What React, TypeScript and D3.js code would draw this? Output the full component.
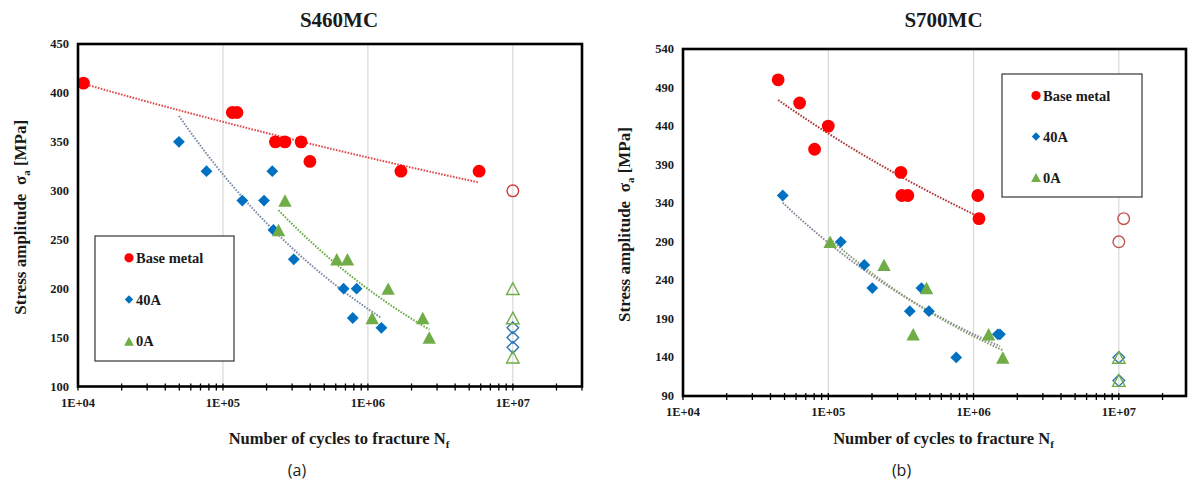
import React from 'react';
import * as d3 from 'd3';

const W = 1188;
const H = 488;
const serif = '"Liberation Serif", "Times New Roman", serif';

// ---- S460MC (a) ----
const s460BaseN = [1.09e4, 1.16e5, 1.25e5, 2.3e5, 2.68e5, 3.46e5, 3.98e5, 1.69e6, 5.85e6];
const s460BaseS = [410, 380, 380, 350, 350, 350, 330, 320, 320];
const s460BaseRunN = [1e7];
const s460BaseRunS = [300];
const s460A40N = [4.97e4, 7.7e4, 1.36e5, 1.92e5, 2.19e5, 2.23e5, 3.08e5, 6.8e5, 8.36e5, 7.86e5, 1.24e6];
const s460A40S = [350, 320, 290, 290, 320, 260, 230, 200, 200, 170, 160];
const s460A40RunN = [1e7, 1e7, 1e7];
const s460A40RunS = [160, 150, 140];
const s460A0N = [2.68e5, 2.42e5, 6.1e5, 7.23e5, 1.38e6, 1.07e6, 2.39e6, 2.65e6];
const s460A0S = [290, 260, 230, 230, 200, 170, 170, 150];
const s460A0RunN = [1e7, 1e7, 1e7];
const s460A0RunS = [200, 170, 130];
const s460YTicks = [100, 150, 200, 250, 300, 350, 400, 450];

// ---- S700MC (b) ----
const s700BaseN = [4.52e4, 6.35e4, 8.05e4, 1.0e5, 3.16e5, 3.21e5, 3.53e5, 1.07e6, 1.09e6];
const s700BaseS = [500, 470, 410, 440, 380, 350, 350, 350, 320];
const s700BaseRunN = [1.08e7, 1e7];
const s700BaseRunS = [320, 290];
const s700A40N = [4.86e4, 1.22e5, 1.77e5, 2.01e5, 4.38e5, 3.64e5, 4.93e5, 1.47e6, 1.52e6, 7.6e5];
const s700A40S = [350, 290, 260, 230, 230, 200, 200, 170, 170, 140];
const s700A40RunN = [1e7, 1e7];
const s700A40RunS = [140, 110];
const s700A0N = [1.03e5, 2.42e5, 4.75e5, 3.84e5, 1.27e6, 1.59e6];
const s700A0S = [290, 260, 230, 170, 170, 140];
const s700A0RunN = [1e7, 1e7];
const s700A0RunS = [140, 110];
const s700YTicks = [90, 140, 190, 240, 290, 340, 390, 440, 490, 540];

const xTickValues = [1e4, 1e5, 1e6, 1e7];
const xTickLabels = ['1E+04', '1E+05', '1E+06', '1E+07'];
const legendLabels = ['Base metal', '40A', '0A'];

const RED = '#ff0000';
const BLUE = '#0070c0';
const GREEN = '#70ad47';
const INK = '#1a1a1a';

// Excel-style power trendline: least squares on log N / log S
function powerFit(n: number[], s: number[]): [number, number][] {
  const lx = n.map(Math.log10);
  const ly = s.map(Math.log10);
  const mx = d3.mean(lx) as number;
  const my = d3.mean(ly) as number;
  const b = d3.sum(lx, (x, i) => (x - mx) * (ly[i] - my)) / d3.sum(lx, x => (x - mx) ** 2);
  const a = my - b * mx;
  const [lo, hi] = d3.extent(lx) as [number, number];
  return d3.range(41).map(i => {
    const l = lo + ((hi - lo) * i) / 40;
    return [10 ** l, 10 ** (a + b * l)];
  });
}

const diamond = (r: number) => `M0,${-r}L${r},0L0,${r}L${-r},0Z`;
const triangle = (r: number) => `M0,${-r}L${r * 1.08},${r}L${-r * 1.08},${r}Z`;

type Kind = 'circle' | 'diamond' | 'triangle';

function Marker({ kind, x, y, color, open, size = 6.3 }: { kind: Kind; x: number; y: number; color: string; open?: boolean; size?: number }) {
  const fill = open ? 'none' : color;
  const stroke = open ? color : 'none';
  const sw = open ? 1.4 : 0;
  if (kind === 'circle') return <circle cx={x} cy={y} r={size} fill={fill} stroke={stroke} strokeWidth={sw} />;
  const d = kind === 'diamond' ? diamond(size) : triangle(size);
  return <path transform={`translate(${x},${y})`} d={d} fill={fill} stroke={stroke} strokeWidth={sw} />;
}

const markerSize: Record<Kind, number> = { circle: 6.4, diamond: 5.9, triangle: 6.2 };
const legendSize: Record<Kind, number> = { circle: 4.6, diamond: 4.2, triangle: 4.5 };

type SeriesDef = {
  kind: Kind;
  color: string;
  runColor: string;
  trendColor: string;
  n: number[];
  s: number[];
  runN: number[];
  runS: number[];
};

type PanelProps = {
  title: string;
  caption: string;
  left: number;
  right: number;
  top: number;
  bottom: number;
  xMax: number;
  yTicks: number[];
  series: SeriesDef[];
  legend: { x: number; y: number; w: number; h: number };
  yLabelX: number;
};

function Panel({ title, caption, left, right, top, bottom, xMax, yTicks, series, legend, yLabelX }: PanelProps) {
  const x = d3.scaleLog().domain([1e4, xMax]).range([left, right]);
  const y = d3.scaleLinear().domain([yTicks[0], yTicks[yTicks.length - 1]]).range([bottom, top]);
  const line = d3.line<[number, number]>().x(d => x(d[0])).y(d => y(d[1]));
  const minor: number[] = [];
  for (const dec of xTickValues) for (let k = 1; k <= 9; k++) if (k * dec <= xMax) minor.push(k * dec);
  const cx = (left + right) / 2;
  const rowGap = legend.h / 3;

  return (
    <g>
      <text x={cx + 9} y={27} textAnchor="middle" fontFamily={serif} fontWeight="bold" fontSize={21} fill={INK}>{title}</text>
      {xTickValues.slice(1).map(v => (
        <line key={v} x1={x(v)} x2={x(v)} y1={top} y2={bottom} stroke="#d9d9d9" strokeWidth={1.2} />
      ))}
      {series.map((sr, i) => (
        <path key={'t' + i} d={line(powerFit(sr.n, sr.s)) || ''} fill="none" stroke={sr.trendColor} strokeWidth={2} strokeDasharray="1.6 1.4" />
      ))}
      {series.map((sr, i) => (
        <g key={'m' + i}>
          {sr.n.map((n, j) => <Marker key={j} kind={sr.kind} x={x(n)} y={y(sr.s[j])} color={sr.color} size={markerSize[sr.kind]} />)}
        </g>
      ))}
      {series.map((sr, i) => (
        <g key={'r' + i}>
          {sr.runN.map((n, j) => <Marker key={j} kind={sr.kind} x={x(n)} y={y(sr.runS[j])} color={sr.runColor} open size={5.8} />)}
        </g>
      ))}
      <rect x={left} y={top} width={right - left} height={bottom - top} fill="none" stroke="#000" strokeWidth={2.6} />
      {minor.map(v => (
        <line key={'mt' + v} x1={x(v)} x2={x(v)} y1={bottom - 3} y2={bottom + 4} stroke="#000" strokeWidth={1.3} />
      ))}
      {xTickValues.map((v, i) => (
        <text key={'xl' + v} x={x(v)} y={bottom + 20} textAnchor="middle" fontFamily={serif} fontWeight="bold" fontSize={12.5} fill={INK}>{xTickLabels[i]}</text>
      ))}
      {yTicks.map(v => (
        <text key={'yl' + v} x={left - 9} y={y(v) + 4} textAnchor="end" fontFamily={serif} fontWeight="bold" fontSize={12.5} fill={INK}>{v}</text>
      ))}
      <text x={cx + 9} y={444} textAnchor="middle" fontFamily={serif} fontWeight="bold" fontSize={16.5} fill={INK}>
        Number of cycles to fracture N<tspan fontSize={11} dy={4}>f</tspan>
      </text>
      <text transform={`translate(${yLabelX},${(top + bottom) / 2 + 2}) rotate(-90)`} textAnchor="middle" fontFamily={serif} fontWeight="bold" fontSize={17} fill={INK}>
        Stress amplitude {'\u00a0'}σ<tspan fontSize={11} dy={4}>a</tspan><tspan dy={-4}> [MPa]</tspan>
      </text>
      <text x={cx - 33} y={476} textAnchor="middle" fontFamily='"Open Sans", "Liberation Sans", sans-serif' fontSize={16} fill="#222">{caption}</text>
      <g>
        <rect x={legend.x} y={legend.y} width={legend.w} height={legend.h} fill="#fff" stroke="#444" strokeWidth={1.3} />
        {series.map((sr, i) => {
          const ry = legend.y + rowGap * (i + 0.5) + 1;
          return (
            <g key={'lg' + i}>
              <Marker kind={sr.kind} x={legend.x + 34} y={ry} color={sr.color} size={legendSize[sr.kind]} />
              <text x={legend.x + 41} y={ry + 5} fontFamily={serif} fontWeight="bold" fontSize={14.5} fill={INK}>{legendLabels[i]}</text>
            </g>
          );
        })}
      </g>
    </g>
  );
}

export default function App() {
  const s460: SeriesDef[] = [
    { kind: 'circle', color: RED, runColor: '#d03a3a', trendColor: '#e04848', n: s460BaseN, s: s460BaseS, runN: s460BaseRunN, runS: s460BaseRunS },
    { kind: 'diamond', color: BLUE, runColor: '#2e75b6', trendColor: '#7d8ea8', n: s460A40N, s: s460A40S, runN: s460A40RunN, runS: s460A40RunS },
    { kind: 'triangle', color: GREEN, runColor: GREEN, trendColor: '#6aab45', n: s460A0N, s: s460A0S, runN: s460A0RunN, runS: s460A0RunS },
  ];
  const s700: SeriesDef[] = [
    { kind: 'circle', color: RED, runColor: '#c0504d', trendColor: '#a83838', n: s700BaseN, s: s700BaseS, runN: s700BaseRunN, runS: s700BaseRunS },
    { kind: 'diamond', color: BLUE, runColor: '#2e75b6', trendColor: '#8a8a9a', n: s700A40N, s: s700A40S, runN: s700A40RunN, runS: s700A40RunS },
    { kind: 'triangle', color: GREEN, runColor: GREEN, trendColor: '#86a070', n: s700A0N, s: s700A0S, runN: s700A0RunN, runS: s700A0RunS },
  ];
  return (
    <svg width={W} height={H} viewBox={`0 0 ${W} ${H}`} style={{ position: 'absolute', left: 0, top: 0, background: '#fff' }}>
      <rect width={W} height={H} fill="#fff" />
      <Panel title="S460MC" caption="(a)" left={78} right={582} top={44} bottom={386.5} xMax={3e7}
        yTicks={s460YTicks} series={s460} legend={{ x: 95, y: 236, w: 139, h: 125 }} yLabelX={26} />
      <Panel title="S700MC" caption="(b)" left={683} right={1186} top={49} bottom={396} xMax={2.9e7}
        yTicks={s700YTicks} series={s700} legend={{ x: 1002, y: 74, w: 140, h: 123 }} yLabelX={630} />
    </svg>
  );
}
